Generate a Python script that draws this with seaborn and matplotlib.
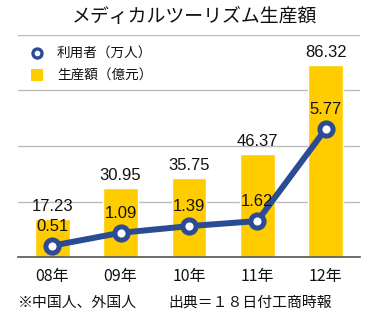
import matplotlib
matplotlib.use("Agg")
import matplotlib.pyplot as plt
import seaborn as sns
import pandas as pd
from matplotlib.lines import Line2D
from matplotlib.patches import Rectangle

years = ["08年", "09年", "10年", "11年", "12年"]
production = [17.23, 30.95, 35.75, 46.37, 86.32]
users = [0.51, 1.09, 1.39, 1.62, 5.77]
prod_labels = ["17.23", "30.95", "35.75", "46.37", "86.32"]
user_labels = ["0.51", "1.09", "1.39", "1.62", "5.77"]

sns.set_theme(style="white")
plt.rcParams['font.family'] = ['Noto Sans CJK JP', 'DejaVu Sans']

BAR = "#FFCC00"
LINE = "#2C4B95"
W, H = 376, 325

fig = plt.figure(figsize=(3.76, 3.25), dpi=100)
ax = fig.add_axes([18/W, (H-257)/H, 342/W, 222/H])

df = pd.DataFrame({"year": years, "production": production, "users": users, "pos": range(len(years))})
sns.barplot(data=df, x="year", y="production", color=BAR, width=0.51, ax=ax, saturation=1)
ax.set_ylim(0, 100)
ax.set_xlim(-0.5, 4.5)
ax.set_yticks([25, 50, 75, 100])
ax.yaxis.grid(True, color="#BBBBBB", lw=1)
ax.set_axisbelow(True)
for s in ["top", "right", "left"]:
    ax.spines[s].set_visible(False)
ax.spines["bottom"].set_color("#555555")
ax.spines["bottom"].set_linewidth(1.2)
ax.set_yticklabels([])
ax.tick_params(axis="y", length=0)
ax.tick_params(axis="x", length=0, labelsize=11.5, pad=8, colors="#111111")
ax.set_xlabel("")
ax.set_ylabel("")

for i, (v, t) in enumerate(zip(production, prod_labels)):
    ax.annotate(t, (i, v), xytext=(0, 9), textcoords="offset points", ha="center", va="center",
                fontsize=12, color="#111111", family=['Liberation Sans'])

ax2 = ax.twinx()
sns.lineplot(data=df, x="pos", y="users", ax=ax2, color=LINE, lw=4.3, marker="o", markersize=9.5,
             markerfacecolor="white", markeredgecolor=LINE, markeredgewidth=3.6, zorder=5)
ax2.set_ylim(0, 10.0)
ax2.set_xlim(-0.5, 4.5)
ax2.axis("off")
for i, (v, t) in enumerate(zip(users, user_labels)):
    ax2.annotate(t, (i, v), xytext=(0, 14), textcoords="offset points", ha="center", va="center",
                 fontsize=12, color="#111111", family=['Liberation Sans'], zorder=6)

fig.text(195/W, 1 - 17/H, "メディカルツーリズム生産額", ha="center", va="center", fontsize=13.6, color="#111111")

# legend
fig.add_artist(Line2D([37/W], [1 - 53/H], marker="o", color="none", markerfacecolor="white",
                      markeredgecolor=LINE, markeredgewidth=2.4, markersize=6.5, transform=fig.transFigure))
fig.add_artist(Rectangle((31/W, 1 - 81/H), 12/W, 12/H, facecolor=BAR, edgecolor="none", transform=fig.transFigure))
fig.text(57/W, 1 - 53/H, "利用者（万人）", ha="left", va="center", fontsize=9.8, color="#111111")
fig.text(57/W, 1 - 74.5/H, "生産額（億元）", ha="left", va="center", fontsize=9.8, color="#111111")

fig.text(18/W, 1 - 303/H, "※中国人、外国人", ha="left", va="center", fontsize=10.7, color="#111111")
fig.text(168/W, 1 - 303/H, "出典＝１８日付工商時報", ha="left", va="center", fontsize=10.7, color="#111111")

fig.savefig("out.png", dpi=100)
